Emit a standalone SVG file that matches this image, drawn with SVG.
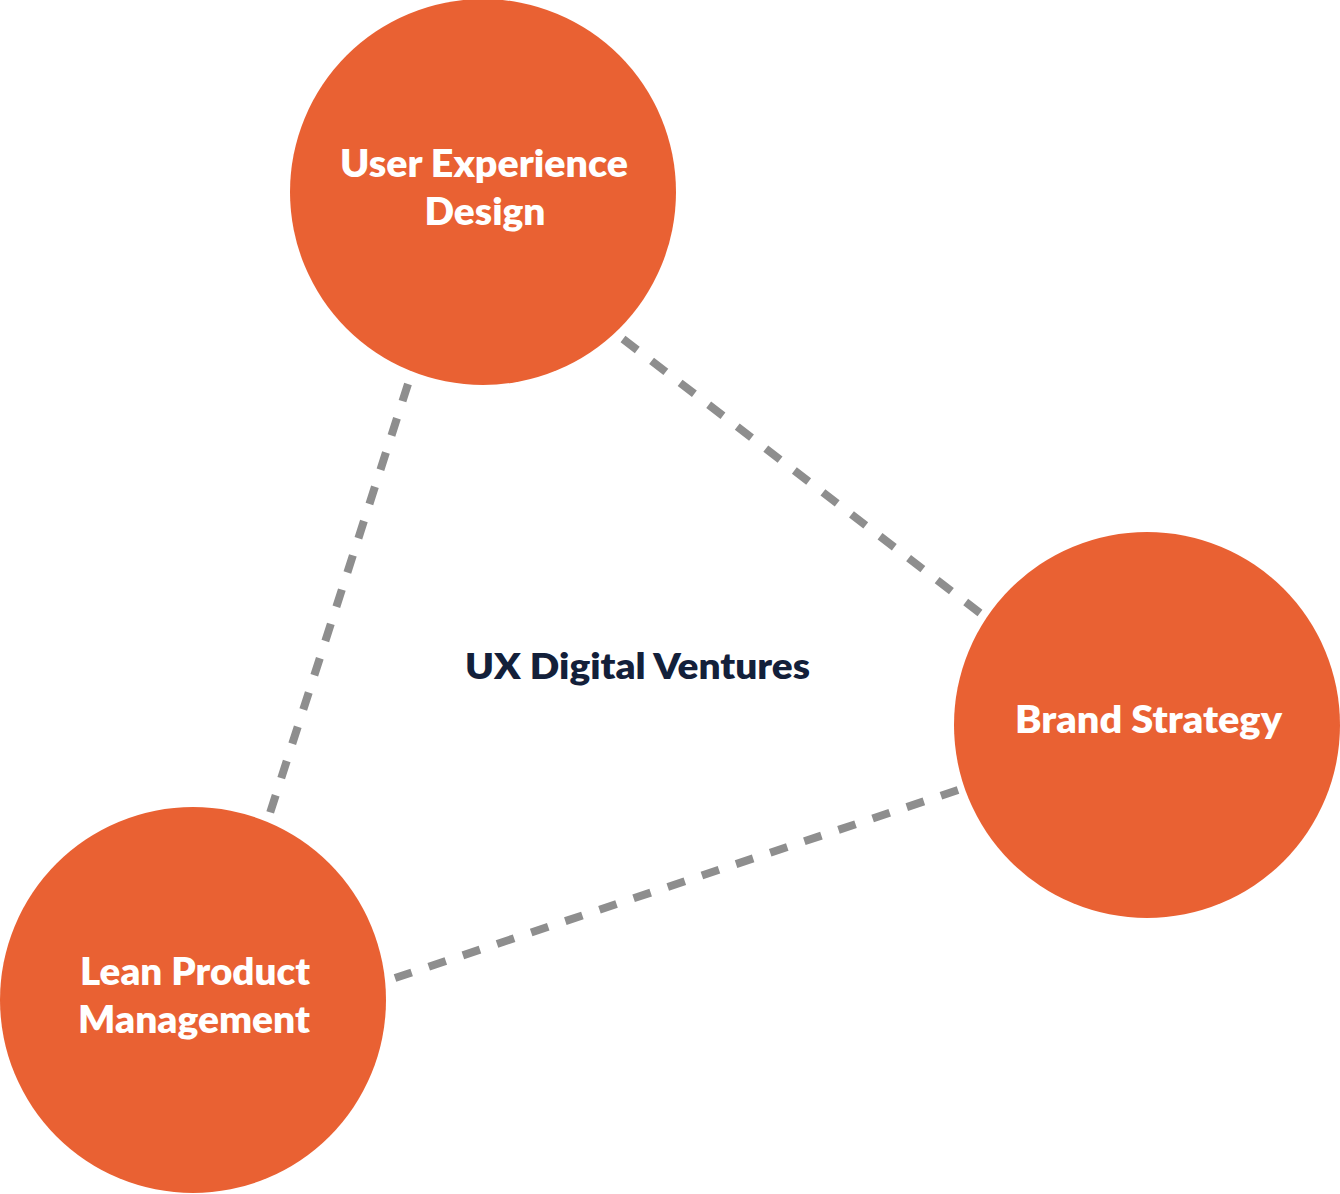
<svg xmlns="http://www.w3.org/2000/svg" width="1340" height="1194" viewBox="0 0 1340 1194">
<style>
.node{fill:#E96133}
.lbl{font-family:Lato,"Open Sans","Liberation Sans",sans-serif;font-weight:800;font-size:37px;fill:#FFFFFF;text-anchor:middle}
.title{font-family:Lato,"Open Sans","Liberation Sans",sans-serif;font-weight:800;font-size:36px;fill:#13203A;text-anchor:middle}
.link{stroke:#8E8E8E;stroke-width:8;stroke-dasharray:18 18;fill:none;stroke-linecap:butt}
</style>
<rect width="1340" height="1194" fill="#FFFFFF"/>
<g id="connectors">
<line class="link" x1="408" y1="384" x2="270" y2="813"/>
<line class="link" x1="623" y1="339" x2="980" y2="613"/>
<line class="link" x1="958" y1="790" x2="395" y2="978"/>
</g>
<g id="node-ux">
<circle class="node" cx="483" cy="192" r="193"/>
<text class="lbl" x="484" y="177" textLength="288" lengthAdjust="spacingAndGlyphs">User Experience</text>
<text class="lbl" x="485" y="225" textLength="121" lengthAdjust="spacingAndGlyphs">Design</text>
</g>
<g id="node-brand">
<circle class="node" cx="1147" cy="725" r="193"/>
<text class="lbl" x="1148.5" y="733" textLength="267" lengthAdjust="spacingAndGlyphs">Brand Strategy</text>
</g>
<g id="node-lean">
<circle class="node" cx="193" cy="1000" r="193"/>
<text class="lbl" x="195" y="985" textLength="230" lengthAdjust="spacingAndGlyphs">Lean Product</text>
<text class="lbl" x="194" y="1033" textLength="232" lengthAdjust="spacingAndGlyphs">Management</text>
</g>
<g id="center-label">
<text class="title" x="637.5" y="679" textLength="345" lengthAdjust="spacingAndGlyphs">UX Digital Ventures</text>
</g>
</svg>
